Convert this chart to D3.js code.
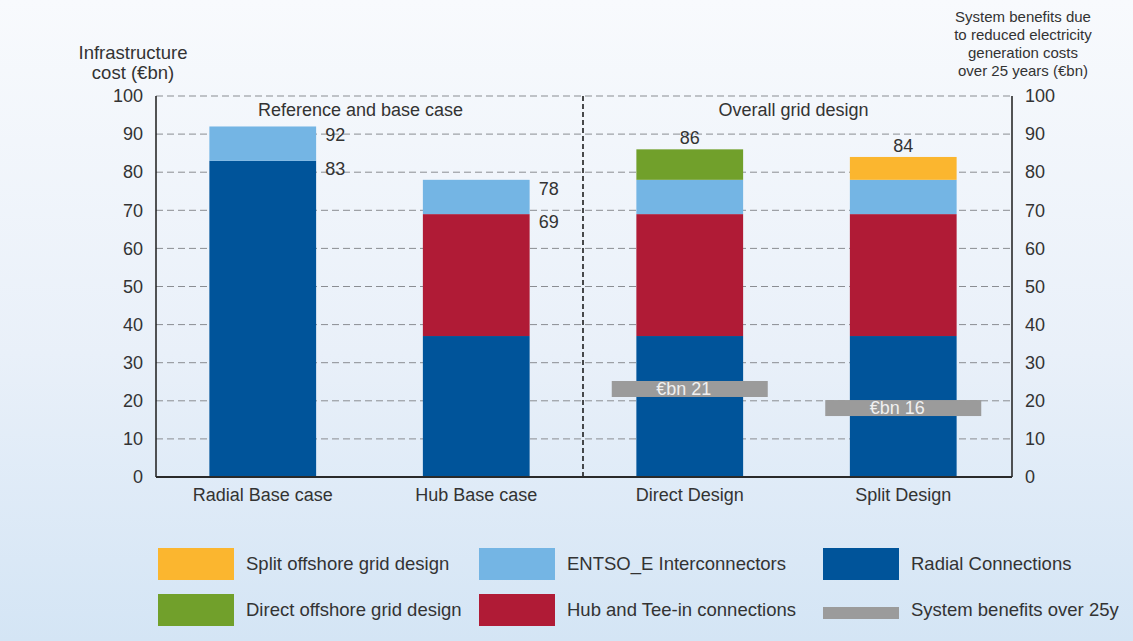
<!DOCTYPE html>
<html>
<head>
<meta charset="utf-8">
<script src="https://cdn.jsdelivr.net/npm/d3@7"></script>
<style>
  html, body { margin: 0; padding: 0; }
  body { width: 1133px; height: 641px; overflow: hidden; }
  svg text { font-family: "Liberation Sans", Arial, sans-serif; fill: #333; }
</style>
</head>
<body>
<svg id="chart" width="1133" height="641"></svg>
<script>
// Infrastructure cost per design (€bn), stacked from the bottom up
const categories = ["Radial Base case", "Hub Base case", "Direct Design", "Split Design"];
const radialConnections = [83, 37, 37, 37];
const hubTeeIn = [0, 32, 32, 32];
const entsoInterconnectors = [9, 9, 9, 9];
const directOffshore = [0, 0, 8, 0];
const splitOffshore = [0, 0, 0, 6];

// Stated totals and sub-totals
const totalLabels = [92, 78, 86, 84];
const innerLabels = [83, 69, null, null];

// System benefits over 25 years (€bn)
const systemBenefits = [null, null, 21, 16];

const yTicks = [0, 10, 20, 30, 40, 50, 60, 70, 80, 90, 100];
const groupTitles = ["Reference and base case", "Overall grid design"];

const seriesKeys = ["radial", "hub", "entso", "direct", "split"];
const seriesColors = {
  radial: "#00549a",
  hub: "#b01b36",
  entso: "#74b5e4",
  direct: "#71a02b",
  split: "#fbb62f"
};

const rows = categories.map((c, i) => ({
  category: c,
  radial: radialConnections[i],
  hub: hubTeeIn[i],
  entso: entsoInterconnectors[i],
  direct: directOffshore[i],
  split: splitOffshore[i]
}));

const svg = d3.select("#chart");
const W = 1133, H = 641;
const plotLeft = 156, plotRight = 1012, plotTop = 96, plotBottom = 477;
const fontStack = "'Liberation Sans', Arial, sans-serif";

// background wash
const defs = svg.append("defs");
const grad = defs.append("linearGradient").attr("id", "bg")
  .attr("x1", 0).attr("y1", 0).attr("x2", 0).attr("y2", 1);
grad.append("stop").attr("offset", "0%").attr("stop-color", "#f8fafd");
grad.append("stop").attr("offset", "55%").attr("stop-color", "#e9f0f9");
grad.append("stop").attr("offset", "100%").attr("stop-color", "#d4e5f5");
svg.append("rect").attr("width", W).attr("height", H).attr("fill", "url(#bg)");

const x = d3.scaleBand().domain(categories).range([plotLeft, plotRight - 2])
  .paddingInner(0.5).paddingOuter(0.25);
const y = d3.scaleLinear().domain([0, 100]).range([plotBottom, plotTop]);

// dashed gridlines
svg.append("g").selectAll("line").data(yTicks.filter(t => t > 0)).join("line")
  .attr("x1", plotLeft).attr("x2", plotRight)
  .attr("y1", d => y(d)).attr("y2", d => y(d))
  .attr("stroke", "#8a8d92").attr("stroke-width", 1)
  .attr("stroke-dasharray", "7,4");

// stacked bars
const stack = d3.stack().keys(seriesKeys)(rows);
svg.append("g").selectAll("g").data(stack).join("g")
  .attr("fill", d => seriesColors[d.key])
  .selectAll("rect").data(d => d).join("rect")
  .attr("x", d => x(d.data.category))
  .attr("width", x.bandwidth())
  .attr("y", d => y(d[1]))
  .attr("height", d => y(d[0]) - y(d[1]));

// group divider
const divX = (x(categories[1]) + x.bandwidth() + x(categories[2])) / 2;
svg.append("line")
  .attr("x1", divX).attr("x2", divX).attr("y1", plotTop).attr("y2", plotBottom)
  .attr("stroke", "#111").attr("stroke-width", 1.5).attr("stroke-dasharray", "5,3");

// group titles
svg.append("text").attr("x", (plotLeft + divX) / 2 - 9).attr("y", y(100) + 20)
  .attr("text-anchor", "middle").style("font-size", "18px").text(groupTitles[0]);
svg.append("text").attr("x", (divX + plotRight) / 2 - 4).attr("y", y(100) + 20)
  .attr("text-anchor", "middle").style("font-size", "18px").text(groupTitles[1]);

// frame: left and right axis lines
svg.append("line").attr("x1", plotLeft).attr("x2", plotLeft).attr("y1", plotTop).attr("y2", plotBottom)
  .attr("stroke", "#1d1d1d").attr("stroke-width", 1.5);
svg.append("line").attr("x1", plotRight).attr("x2", plotRight).attr("y1", plotTop).attr("y2", plotBottom)
  .attr("stroke", "#1d1d1d").attr("stroke-width", 1.5);

const yLeft = d3.axisLeft(y).tickValues(yTicks).tickSize(0).tickPadding(13);
svg.append("g").attr("transform", `translate(${plotLeft},0)`).call(yLeft)
  .call(g => g.select(".domain").remove())
  .selectAll("text").style("font-size", "18px").attr("fill", "#333")
  .style("font-family", fontStack);

const yRight = d3.axisRight(y).tickValues(yTicks).tickSize(0).tickPadding(13);
svg.append("g").attr("transform", `translate(${plotRight},0)`).call(yRight)
  .call(g => g.select(".domain").remove())
  .selectAll("text").style("font-size", "18px").attr("fill", "#333")
  .style("font-family", fontStack);

const xAxis = d3.axisBottom(x).tickSize(0).tickPadding(11);
svg.append("g").attr("transform", `translate(0,${plotBottom})`).call(xAxis)
  .call(g => g.select(".domain").remove())
  .selectAll("text").style("font-size", "18px").attr("fill", "#333")
  .style("font-family", fontStack);

svg.append("line").attr("x1", plotLeft).attr("x2", plotRight).attr("y1", plotBottom).attr("y2", plotBottom)
  .attr("stroke", "#2a2a2a").attr("stroke-width", 2);

// axis titles
const leftTitle = svg.append("text").attr("text-anchor", "middle").style("font-size", "18.5px");
["Infrastructure", "cost (€bn)"].forEach((t, i) =>
  leftTitle.append("tspan").attr("x", 133).attr("y", 59 + i * 20).text(t));

const rightTitle = svg.append("text").attr("text-anchor", "middle").style("font-size", "15px");
["System benefits due", "to reduced electricity", "generation costs", "over 25 years (€bn)"]
  .forEach((t, i) => rightTitle.append("tspan").attr("x", 1023).attr("y", 22 + i * 18).text(t));

// value labels
categories.forEach((c, i) => {
  const isOverall = i >= 2;
  if (isOverall) {
    svg.append("text").attr("x", x(c) + x.bandwidth() / 2).attr("y", y(totalLabels[i]) - 5)
      .attr("text-anchor", "middle").style("font-size", "18px").text(totalLabels[i]);
  } else {
    svg.append("text").attr("x", x(c) + x.bandwidth() + 9).attr("y", y(totalLabels[i]) + 15)
      .style("font-size", "18px").text(totalLabels[i]);
  }
  if (innerLabels[i] != null) {
    svg.append("text").attr("x", x(c) + x.bandwidth() + 9).attr("y", y(innerLabels[i]) + 14)
      .style("font-size", "18px").text(innerLabels[i]);
  }
});

// system benefit bands
const benefitHeight = 16, benefitWidth = 156;
categories.forEach((c, i) => {
  const v = systemBenefits[i];
  if (v == null) return;
  const cx = x(c) + x.bandwidth() / 2;
  svg.append("rect").attr("x", cx - benefitWidth / 2).attr("y", y(v) - benefitHeight)
    .attr("width", benefitWidth).attr("height", benefitHeight).attr("fill", "#9b9b9b");
  svg.append("text").attr("x", cx - 6).attr("y", y(v) - 2)
    .attr("text-anchor", "middle").style("font-size", "18px")
    .style("fill", "#f0f0f0").text("€bn " + v);
});

// legend
const legendItems = [
  { label: "Split offshore grid design", color: seriesColors.split, col: 0, row: 0 },
  { label: "Direct offshore grid design", color: seriesColors.direct, col: 0, row: 1 },
  { label: "ENTSO_E Interconnectors", color: seriesColors.entso, col: 1, row: 0 },
  { label: "Hub and Tee-in connections", color: seriesColors.hub, col: 1, row: 1 },
  { label: "Radial Connections", color: seriesColors.radial, col: 2, row: 0 },
  { label: "System benefits over 25y", color: "#9b9b9b", col: 2, row: 1, thin: true }
];
const colX = [158, 479, 823];
const rowY = [548, 594];
const lg = svg.append("g");
legendItems.forEach(d => {
  const sx = colX[d.col], sy = rowY[d.row];
  lg.append("rect").attr("x", sx).attr("y", d.thin ? sy + 13 : sy)
    .attr("width", 76).attr("height", d.thin ? 12 : 32).attr("fill", d.color);
  lg.append("text").attr("x", sx + 88).attr("y", sy + 22)
    .style("font-size", "18.5px").text(d.label);
});
</script>
</body>
</html>
